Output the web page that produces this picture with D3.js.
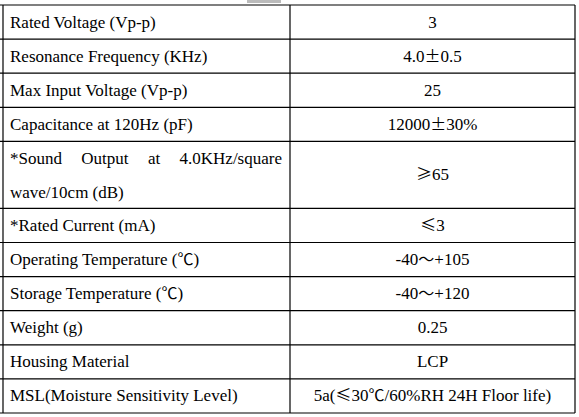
<!DOCTYPE html>
<html><head><meta charset="utf-8">
<script src="https://cdn.jsdelivr.net/npm/d3@7"></script>
<style>body{margin:0;background:#fff}</style></head>
<body><svg id="c" width="579" height="417"></svg>
<script>
const params = ["Rated Voltage (Vp-p)","Resonance Frequency (KHz)","Max Input Voltage (Vp-p)","Capacitance at 120Hz (pF)","*Sound Output at 4.0KHz/square|wave/10cm (dB)","*Rated Current (mA)","Operating Temperature (℃)","Storage Temperature (℃)","Weight (g)","Housing Material","MSL(Moisture Sensitivity Level)"];
const values = ["3","4.0±0.5","25","12000±30%","≥65","≤3","-40～+105","-40～+120","0.25","LCP","5a(≤30℃/60%RH 24H Floor life)"];
const lines = params.map(p=>p.split("|").length);

const svg = d3.select("#c");
const top0 = 5, rowH = 34.1;
const cum = [0]; lines.forEach((l,i)=>cum.push(cum[i]+ (l===2?67/rowH:1)));
const y = d3.scaleLinear().domain([0, cum[cum.length-1]]).range([top0, top0 + rowH*cum[cum.length-1]]);
const xL = 3, xM = 290, xR = 575;
const font = "'Liberation Serif','Times New Roman',serif";
const cjk = "'Noto Sans CJK SC',sans-serif";
const FS = 17;

function rich(sel, t){
  t.split(/([±≥≤～℃])/).filter(s=>s.length).forEach(s=>{
    const sp = sel.append("tspan").text(s);
    if(/^[±≥≤～℃]$/.test(s)) sp.attr("font-family",cjk).attr("font-size",FS-1);
  });
  return sel;
}

svg.append("rect").attr("x",247).attr("y",0).attr("width",34).attr("height",3).attr("fill","#bbb");
const g = svg.append("g").attr("stroke","#000").attr("stroke-width",1.2);
cum.forEach(c=>g.append("line").attr("x1",0).attr("x2",xR).attr("y1",y(c)).attr("y2",y(c)));
[xL,xM,xR].forEach(x=>g.append("line").attr("x1",x).attr("x2",x).attr("y1",y(0)).attr("y2",y(cum[cum.length-1])));

params.forEach((p,i)=>{
  const y0=y(cum[i]), y1=y(cum[i+1]), ls=p.split("|");
  const cy=(y0+y1)/2;
  rich(svg.append("text").attr("x",(xM+xR)/2).attr("y",cy+5.5).attr("text-anchor","middle")
    .attr("font-family",font).attr("font-size",FS), values[i]);
  ls.forEach((t,k)=>{
    const ty = ls.length===1 ? cy+5.5 : y0+23+k*34;
    if(ls.length===2 && k===0){
      const words=t.split(" ");
      const tmp=words.map(w=>svg.append("text").attr("font-family",font).attr("font-size",FS).attr("y",ty).text(w));
      const ws=tmp.map(s=>s.node().getComputedTextLength());
      const gap=(282-10-d3.sum(ws))/(words.length-1);
      let x=10; tmp.forEach((s,j)=>{s.attr("x",x); x+=ws[j]+gap;});
    } else {
      rich(svg.append("text").attr("x",10).attr("y",ty).attr("font-family",font).attr("font-size",FS), t);
    }
  });
});
</script></body></html>
